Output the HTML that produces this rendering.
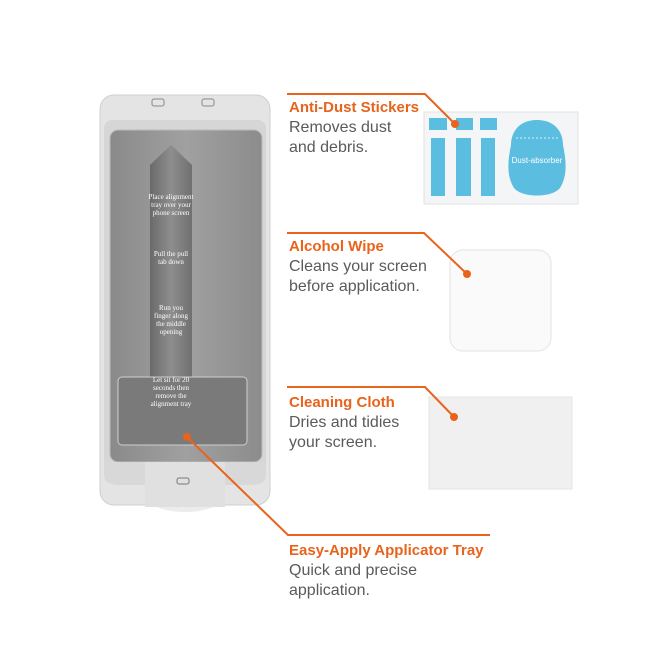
<!DOCTYPE html>
<html><head><meta charset="utf-8"><style>
html,body{margin:0;padding:0;background:#fff;}
body{width:650px;height:650px;position:relative;overflow:hidden;font-family:"Liberation Sans",sans-serif;}
.t{position:absolute;left:289px;font-size:16px;line-height:19.5px;color:#5a5a5a;}
.t b{color:#e8631c;font-weight:bold;display:block;font-size:15px;line-height:21px;}
</style></head><body>
<svg width="650" height="650" style="position:absolute;left:0;top:0">
<defs>
<linearGradient id="shaft" x1="0" x2="1"><stop offset="0" stop-color="#6a6a6a"/><stop offset=".5" stop-color="#8e8e8e"/><stop offset="1" stop-color="#707070"/></linearGradient>
<linearGradient id="well" x1="0" x2="1"><stop offset="0" stop-color="#8a8a8a"/><stop offset=".5" stop-color="#a0a0a0"/><stop offset="1" stop-color="#8c8c8c"/></linearGradient>
</defs>
<ellipse cx="185" cy="490" rx="45" ry="22" fill="#ececec"/>
<rect x="100" y="95" width="170" height="410" rx="14" fill="#e4e4e4" stroke="#cfcfcf"/>
<rect x="104" y="120" width="162" height="350" rx="8" fill="#d6d6d6"/>
<rect x="110" y="130" width="152" height="332" rx="8" fill="url(#well)" stroke="#bbb"/>
<rect x="152" y="99" width="12" height="7" rx="2" fill="none" stroke="#888"/>
<rect x="202" y="99" width="12" height="7" rx="2" fill="none" stroke="#888"/>
<path d="M150,165 L171,145 L192,165 L192,377 L150,377 Z" fill="url(#shaft)"/>
<rect x="118" y="377" width="129" height="68" rx="4" fill="#7a7a7a" stroke="#cfcfcf"/>
<path d="M145,462 L225,462 L225,507 L145,507 Z" fill="#e0e0e0"/>
<path d="M104,462 L266,462 L266,475 Q266,485 250,485 L225,485 L225,462 L145,462 L145,485 L120,485 Q104,485 104,475 Z" fill="#d8d8d8"/>
<rect x="177" y="478" width="12" height="6" rx="2" fill="none" stroke="#777"/>
<g font-family="Liberation Serif,serif" font-size="7" fill="#fff" text-anchor="middle">
<text x="171" y="199">Place alignment</text><text x="171" y="207">tray over your</text><text x="171" y="215">phone screen</text>
<text x="171" y="256">Pull the pull</text><text x="171" y="264">tab down</text>
<text x="171" y="310">Run you</text><text x="171" y="318">finger along</text><text x="171" y="326">the middle</text><text x="171" y="334">opening</text>
<text x="171" y="382">Let sit for 20</text><text x="171" y="390">seconds then</text><text x="171" y="398">remove the</text><text x="171" y="406">alignment tray</text>
</g>
<rect x="424" y="112" width="154" height="92" fill="#f3f5f7" stroke="#e2e2e2"/>
<g fill="#5bbde0">
<rect x="429" y="118" width="18" height="12"/><rect x="456" y="118" width="17" height="12"/><rect x="480" y="118" width="17" height="12"/>
<rect x="431" y="138" width="14" height="58"/><rect x="456" y="138" width="15" height="58"/><rect x="481" y="138" width="14" height="58"/>
<path d="M537,120 C555,120 563,132 563,145 C566,160 568,175 560,188 C552,198 522,198 514,188 C506,175 508,160 511,145 C511,132 519,120 537,120 Z"/>
</g>
<text x="537" y="163" font-size="8" fill="#fff" text-anchor="middle">Dust-absorber</text>
<line x1="516" y1="138" x2="558" y2="138" stroke="#fff" stroke-dasharray="2,2" stroke-width="0.7"/>
<rect x="450" y="250" width="101" height="101" rx="13" fill="#fafafa" stroke="#e3e3e3"/>
<rect x="429" y="397" width="143" height="92" fill="#f0f0f0" stroke="#e6e6e6"/>
<g stroke="#e8631c" stroke-width="2" fill="none">
<polyline points="287,94 425,94 455,124"/>
<polyline points="287,233 424,233 467,274"/>
<polyline points="287,387 425,387 454,417"/>
<polyline points="187,437 288,535 490,535"/>
</g>
<g fill="#e8631c">
<circle cx="455" cy="124" r="4"/><circle cx="467" cy="274" r="4"/><circle cx="454" cy="417" r="4"/><circle cx="187" cy="437" r="4"/>
</g>
</svg>
<div class="t" style="top:97px"><b>Anti-Dust Stickers</b>Removes dust<br>and debris.</div>
<div class="t" style="top:236px"><b>Alcohol Wipe</b>Cleans your screen<br>before application.</div>
<div class="t" style="top:392px"><b>Cleaning Cloth</b>Dries and tidies<br>your screen.</div>
<div class="t" style="top:540px"><b>Easy-Apply Applicator Tray</b>Quick and precise<br>application.</div>
</body></html>
